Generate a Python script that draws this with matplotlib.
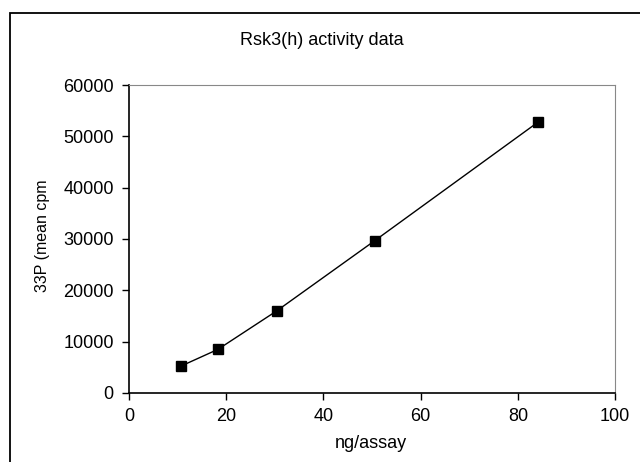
import matplotlib
matplotlib.use('Agg')
from matplotlib import pyplot as plt
from matplotlib.patches import Rectangle

plt.rcParams['font.family'] = ['Liberation Sans', 'DejaVu Sans']

# данные
ng = [10.6, 18.3, 30.4, 50.6, 84.2]
cpm = [5200, 8500, 16000, 29700, 52800]
xticks = [0, 20, 40, 60, 80, 100]
yticks = [0, 10000, 20000, 30000, 40000, 50000, 60000]

fig = plt.figure(figsize=(6.4, 4.62), dpi=100)
ax = fig.add_axes([0.2016, 0.1494, 0.7594, 0.6666])

# рамка вокруг всего рисунка (правый и нижний края срезаны)
fig.patches.append(Rectangle((0.015, -0.1), 1.2, 1.072, transform=fig.transFigure,
                             fill=False, edgecolor='black', linewidth=1.3))

ax.plot(ng, cpm, color='black', linewidth=1, marker='s', markersize=6.5)

ax.set_xlim(0, 100)
ax.set_ylim(0, 60000)
ax.set_xticks(xticks)
ax.set_yticks(yticks)
ax.tick_params(direction='out', length=5, width=1, labelsize=13, pad=6)

for s in ['top', 'right']:
    ax.spines[s].set_color('#888888')
for s in ['left', 'bottom']:
    ax.spines[s].set_color('black')
    ax.spines[s].set_linewidth(1.2)

fig.text(0.503, 0.913, 'Rsk3(h) activity data', ha='center', va='center', fontsize=13)
fig.text(0.58, 0.04, 'ng/assay', ha='center', va='center', fontsize=13)
fig.text(0.067, 0.489, '33P (mean cpm', ha='center', va='center', rotation=90, fontsize=11.5)

fig.savefig('out.png', dpi=100)
